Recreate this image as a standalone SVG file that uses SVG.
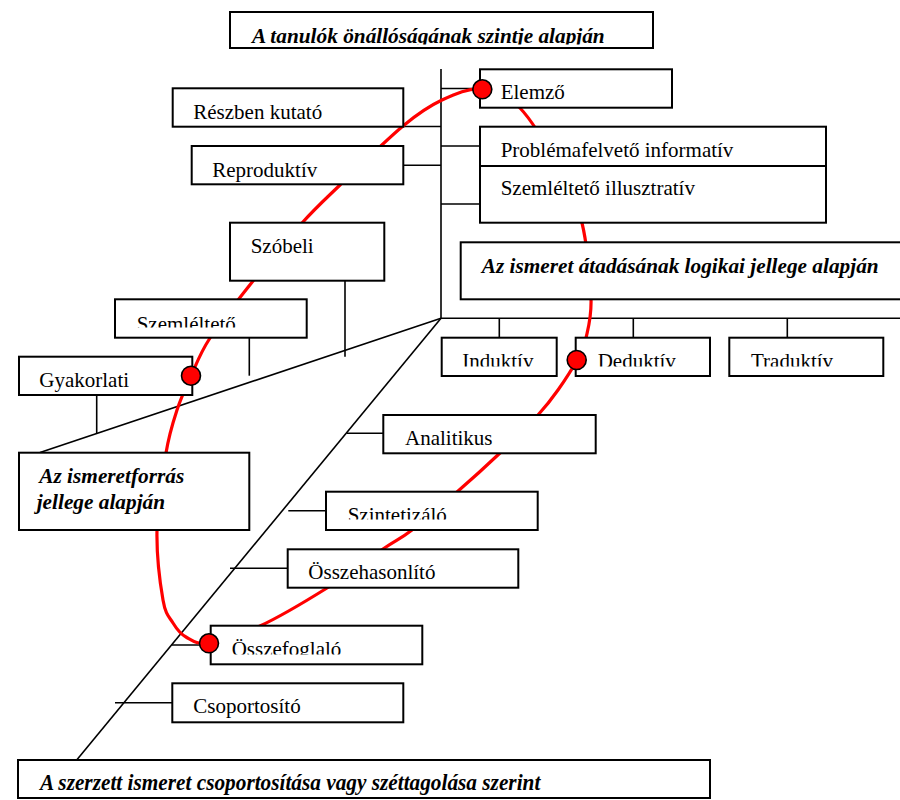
<svg xmlns="http://www.w3.org/2000/svg" width="900" height="800" viewBox="0 0 900 800">
<style>
.box{fill:#fff;stroke:#000;stroke-width:2}
.ln{stroke:#000;stroke-width:1.6;fill:none}
.t{font-family:"Liberation Serif","Times New Roman",serif;font-size:21px;fill:#000}
.bi{font-family:"Liberation Serif","Times New Roman",serif;font-size:21.3px;font-weight:bold;font-style:italic;fill:#000}
.curve{fill:none;stroke:#f00;stroke-width:3.2}
.dot{fill:#f00;stroke:#000;stroke-width:1.6}
</style>
<defs>
<clipPath id="cTitle"><rect x="230" y="12" width="423" height="32.5"/></clipPath>
<clipPath id="cSzem"><rect x="115" y="299" width="192" height="28.5"/></clipPath>
<clipPath id="cInd"><rect x="440" y="337" width="450" height="29.5"/></clipPath>
<clipPath id="cSzint"><rect x="326" y="491" width="212" height="28.5"/></clipPath>
<clipPath id="cOssz"><rect x="210" y="625" width="213" height="29.5"/></clipPath>
</defs>
<rect width="900" height="800" fill="#fff"/>
<g id="connectors">
<line class="ln" x1="441" y1="69" x2="441" y2="318.3"/>
<line class="ln" x1="441" y1="318.3" x2="900" y2="318.3"/>
<line class="ln" x1="441" y1="318.3" x2="40" y2="452.5"/>
<line class="ln" x1="441" y1="318.3" x2="76.7" y2="760"/>
<line class="ln" x1="441" y1="88.5" x2="480" y2="88.5"/>
<line class="ln" x1="403" y1="126.5" x2="441" y2="126.5"/>
<line class="ln" x1="441" y1="146" x2="480" y2="146"/>
<line class="ln" x1="403" y1="165.3" x2="441" y2="165.3"/>
<line class="ln" x1="441" y1="204" x2="480" y2="204"/>
<line class="ln" x1="499.3" y1="318.3" x2="499.3" y2="337.7"/>
<line class="ln" x1="633.3" y1="318.3" x2="633.3" y2="337.7"/>
<line class="ln" x1="787.3" y1="318.3" x2="787.3" y2="337.7"/>
<line class="ln" x1="345" y1="280.7" x2="345" y2="356.7"/>
<line class="ln" x1="249.3" y1="337.7" x2="249.3" y2="375.7"/>
<line class="ln" x1="96.7" y1="395" x2="96.7" y2="433.3"/>
<line class="ln" x1="346.7" y1="433.3" x2="383.3" y2="433.3"/>
<line class="ln" x1="288.3" y1="510.7" x2="326" y2="510.7"/>
<line class="ln" x1="230" y1="568.3" x2="287.7" y2="568.3"/>
<line class="ln" x1="171.7" y1="645" x2="210.7" y2="645"/>
<line class="ln" x1="115" y1="702.7" x2="172.3" y2="702.7"/>
</g>
<path id="red-curve" class="curve" d="M209,643 C196.7,644.8 192,640.3 186,637 C180,633.7 176.8,629.2 173,623 C169.2,616.8 165.7,615.5 163,600 C160.3,584.5 156.5,554.5 157,530 C157.5,505.5 162.7,473 166,453 C169.3,433 172.8,422.8 177,410 C181.2,397.2 185.5,388 191,376 C196.5,364 199.7,353.8 210,338 C220.3,322.2 237.7,300.2 253,281 C268.3,261.8 287.5,239 302,223 C316.5,207 323.2,201.2 340,185 C356.8,168.8 386,140.2 403,126 C420,111.8 428.8,106.2 442,100 C455.2,93.8 469,87.7 482,89 C495,90.3 507,94.5 520,108 C533,121.5 549.7,150.8 560,170 C570.3,189.2 576.8,201.7 582,223 C587.2,244.3 590.3,278.8 591,298 C591.7,317.2 588.3,327.7 586,338 C583.7,348.3 581.7,351.3 577,360 C572.3,368.7 564.5,380.8 558,390 C551.5,399.2 547.7,404.5 538,415 C528.3,425.5 513.5,440.2 500,453 C486.5,465.8 471.7,479.2 457,492 C442.3,504.8 424.3,520.5 412,530 C399.7,539.5 397.2,539.3 383,549 C368.8,558.7 347.5,575.2 327,588 C306.5,600.8 279.7,616.8 260,626 C240.3,635.2 221.3,641.2 209,643 Z"/>
<g id="title-top"><rect class="box" x="230" y="12" width="423" height="36"/><text class="bi" x="252" y="42.5" clip-path="url(#cTitle)">A tanulók önállóságának szintje alapján</text></g>
<g id="elemzo"><rect class="box" x="480" y="69.3" width="192" height="38.4"/><text class="t" x="500.7" y="99">Elemző</text></g>
<g id="reszben"><rect class="box" x="172.7" y="88.3" width="230.6" height="38.4"/><text class="t" x="193.3" y="119.3">Részben kutató</text></g>
<g id="reproduktiv"><rect class="box" x="191.7" y="146" width="211.6" height="38.3"/><text class="t" x="212.3" y="176.7">Reproduktív</text></g>
<g id="problema"><rect class="box" x="480" y="126.7" width="346" height="39.3"/><text class="t" x="500.7" y="157.3">Problémafelvető informatív</text></g>
<g id="szemillusztr"><rect class="box" x="480" y="166" width="346" height="56.7"/><text class="t" x="500.7" y="195">Szemléltető illusztratív</text></g>
<g id="logikai"><rect class="box" x="460.7" y="242.3" width="445" height="57"/><text class="bi" x="481.7" y="272.7">Az ismeret átadásának logikai jellege alapján</text></g>
<g id="szobeli"><rect class="box" x="230" y="222.7" width="154.3" height="58"/><text class="t" x="250.7" y="253.3">Szóbeli</text></g>
<g id="szemlelteto"><rect class="box" x="115" y="299.3" width="191.7" height="38.4"/><text class="t" x="136.7" y="331" clip-path="url(#cSzem)">Szemléltető</text></g>
<g id="gyakorlati"><rect class="box" x="19" y="356.7" width="173.3" height="38.3"/><text class="t" x="39.3" y="386.7">Gyakorlati</text></g>
<g id="induktiv"><rect class="box" x="441.7" y="337.7" width="115" height="38.3"/><text class="t" x="462.3" y="368" clip-path="url(#cInd)">Induktív</text></g>
<g id="deduktiv"><rect class="box" x="575.7" y="337.7" width="134.3" height="38.3"/><text class="t" x="597.7" y="368" clip-path="url(#cInd)">Deduktív</text></g>
<g id="traduktiv"><rect class="box" x="729.3" y="337.7" width="154" height="38.3"/><text class="t" x="751" y="368" clip-path="url(#cInd)">Traduktív</text></g>
<g id="ismeretforras"><rect class="box" x="19" y="452.7" width="230.3" height="77.3"/><text class="bi" x="39.3" y="483.3">Az ismeretforrás</text><text class="bi" x="36.7" y="509.3">jellege alapján</text></g>
<g id="analitikus"><rect class="box" x="383.3" y="415" width="212.4" height="38.3"/><text class="t" x="405" y="445">Analitikus</text></g>
<g id="szintetizalo"><rect class="box" x="326" y="491.7" width="211.7" height="38.3"/><text class="t" x="347.7" y="521.6" clip-path="url(#cSzint)">Szintetizáló</text></g>
<g id="osszehasonlito"><rect class="box" x="287.7" y="549.3" width="230.6" height="38.4"/><text class="t" x="308.3" y="579">Összehasonlító</text></g>
<g id="osszefoglalo"><rect class="box" x="210.7" y="625.7" width="211.6" height="38.6"/><text class="t" x="231.7" y="655.6" clip-path="url(#cOssz)">Összefoglaló</text></g>
<g id="csoportosito"><rect class="box" x="172.3" y="683.3" width="231" height="39"/><text class="t" x="193.3" y="713.3">Csoportosító</text></g>
<g id="title-bottom"><rect class="box" x="18" y="760" width="692" height="38"/><text class="bi" transform="translate(40,790) scale(1,1.08)" x="0" y="0">A szerzett ismeret csoportosítása vagy széttagolása szerint</text></g>
<g id="dots">
<circle class="dot" cx="482.3" cy="89.3" r="9.5"/>
<circle class="dot" cx="191" cy="375.7" r="9.5"/>
<circle class="dot" cx="576.7" cy="360" r="9.5"/>
<circle class="dot" cx="209" cy="643.3" r="9.5"/>
</g>
</svg>
